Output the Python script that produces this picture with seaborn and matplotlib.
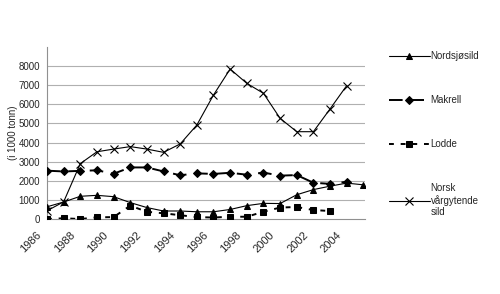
import numpy as np
import pandas as pd
import matplotlib
matplotlib.use("Agg")
import matplotlib.pyplot as plt
import matplotlib.transforms as mtransforms
import seaborn as sns

years = list(range(1986, 2006))
nordsjosild = [640, 890, 1190, 1240, 1170, 860, 600, 420, 420, 380, 380, 500, 700, 820, 810, 1270, 1540, 1720, 1880, 1790]
makrell = [2530, 2490, 2520, 2550, 2370, 2700, 2700, 2490, 2290, 2390, 2360, 2420, 2320, 2430, 2270, 2300, 1900, 1840, 1950, np.nan]
lodde = [0, 40, 0, 90, 100, 700, 380, 300, 200, 100, 80, 120, 120, 380, 600, 630, 470, 420, np.nan, np.nan]
norsk = [430, 900, 2900, 3520, 3660, 3790, 3660, 3490, 3930, 4920, 6490, 7850, 7100, 6580, 5270, 4570, 4570, 5760, 6980, np.nan]

labels = ["Nordsjøsild", "Makrell", "Lodde", "Norsk\nvårgytende\nsild"]
yticks = [0, 1000, 2000, 3000, 4000, 5000, 6000, 7000, 8000]
xtick_years = list(range(1986, 2005, 2))

sns.set_theme(style="white")
plt.rcParams['font.family'] = ['Liberation Sans', 'DejaVu Sans']

fig = plt.figure(figsize=(5, 2.94), dpi=100)
ax = fig.add_axes([0.094, 0.255, 0.636, 0.585])

for y in yticks[1:]:
    ax.axhline(y, color="#b0b0b0", lw=0.8, zorder=0)

styles = [
    dict(marker="^", linestyle="-", lw=0.8, markersize=5),
    dict(marker="D", linestyle=(0, (7, 4)), lw=1.4, markersize=4),
    dict(marker="s", linestyle=(0, (2.5, 3.5)), lw=1.4, markersize=5),
    dict(marker="x", linestyle="-", lw=0.8, markersize=6, markeredgewidth=0.8),
]
series = [nordsjosild, makrell, lodde, norsk]
for vals, lab, st in zip(series, labels, styles):
    df = pd.DataFrame({"year": years, "value": vals}).dropna()
    sns.lineplot(data=df, x="year", y="value", ax=ax, color="black",
                 markeredgecolor="black", label=lab, zorder=3, **st)

ax.set_yticks(yticks)
ax.set_yticklabels([str(v) for v in yticks], fontsize=7)
ax.set_xticks(years, minor=True)
ax.set_xticks(xtick_years)
ax.set_xticklabels([str(v) for v in xtick_years], fontsize=8, rotation=45,
                   ha="right", va="center", rotation_mode="anchor")
ax.set_xlim(1986, 2005.1)
ax.set_ylim(0, 9000)
ax.tick_params(axis="x", which="both", direction="out", length=3, color="#909090", pad=2)
ax.tick_params(axis="y", direction="out", length=3, color="#909090", pad=2)
ax.set_xlabel("")
ax.set_ylabel("(i 1000 tonn)", fontsize=7, labelpad=0)
for side in ["top", "right"]:
    ax.spines[side].set_visible(False)
for side in ["left", "bottom"]:
    ax.spines[side].set_color("#909090")
    ax.spines[side].set_linewidth(0.8)

# shift rotated year labels a little down-left, as in the original
offset = mtransforms.ScaledTranslation(-0.07, -0.07, fig.dpi_scale_trans)
for tick in ax.xaxis.get_major_ticks():
    tick.label1.set_transform(tick.label1.get_transform() + offset)

leg = ax.legend(loc="upper left", bbox_to_anchor=(0.77, 0.84), bbox_transform=fig.transFigure,
                frameon=False, fontsize=7, handlelength=4.2, handletextpad=0.1,
                labelspacing=3.5, borderaxespad=0)

fig.savefig("out.png", dpi=100)
